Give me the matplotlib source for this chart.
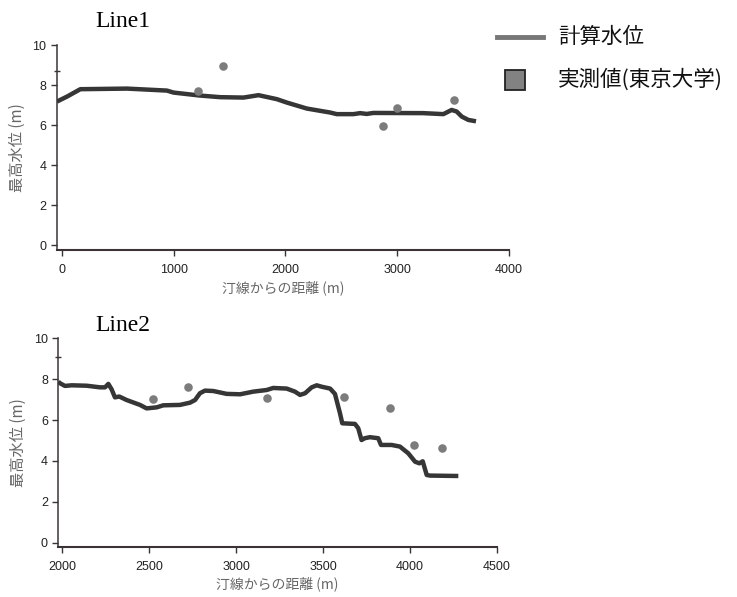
import matplotlib.pyplot as plt
from matplotlib.lines import Line2D
from matplotlib.patches import Rectangle

plt.rcParams['font.family'] = ['Liberation Sans', 'Noto Sans CJK JP']

# Line1 computed water level (distance from shoreline, m / max water level, m)
line1_x = [-45, 45, 164, 581, 939, 999, 1237, 1416, 1624, 1759, 1923, 2012, 2191,
           2400, 2459, 2608, 2668, 2727, 2787, 3234, 3413, 3487, 3532, 3577, 3636, 3705]
line1_y = [7.19, 7.44, 7.81, 7.84, 7.74, 7.64, 7.49, 7.41, 7.39, 7.51, 7.31, 7.14, 6.84,
           6.64, 6.56, 6.56, 6.61, 6.57, 6.62, 6.61, 6.56, 6.77, 6.69, 6.44, 6.27, 6.20]
# Line1 measured (University of Tokyo)
obs1_x = [1213, 1440, 2870, 2996, 3508]
obs1_y = [7.73, 8.98, 5.97, 6.86, 7.27]

# Line2 computed water level
line2_x = [1977, 1987, 2015, 2054, 2140, 2217, 2246, 2265, 2284, 2303, 2328, 2370, 2447,
           2485, 2543, 2581, 2677, 2735, 2764, 2792, 2821, 2869, 2946, 3023, 3099, 3176,
           3214, 3291, 3339, 3368, 3397, 3435, 3464, 3493, 3541, 3569, 3583, 3598, 3611,
           3684, 3703, 3722, 3741, 3770, 3818, 3834, 3895, 3943, 3991, 4030, 4055, 4074,
           4097, 4116, 4279]
line2_y = [7.88, 7.80, 7.67, 7.70, 7.68, 7.60, 7.60, 7.77, 7.50, 7.11, 7.15, 6.98, 6.74,
           6.57, 6.62, 6.72, 6.74, 6.85, 6.98, 7.31, 7.44, 7.42, 7.28, 7.26, 7.39, 7.47,
           7.57, 7.54, 7.39, 7.23, 7.31, 7.60, 7.70, 7.63, 7.54, 7.28, 6.82, 6.33, 5.84,
           5.81, 5.60, 5.02, 5.11, 5.16, 5.11, 4.78, 4.78, 4.70, 4.37, 3.96, 3.88, 3.98,
           3.31, 3.28, 3.26]
obs2_x = [2520, 2721, 3178, 3623, 3886, 4022, 4185]
obs2_y = [7.03, 7.62, 7.08, 7.13, 6.59, 4.76, 4.63]

yticks = [0, 2, 4, 6, 8, 10]
xticks1 = [0, 1000, 2000, 3000, 4000]
xticks2 = [2000, 2500, 3000, 3500, 4000, 4500]

LINE_C = '#363636'
DOT_C = '#7c7c7c'
SPINE_C = '#3c3434'

fig = plt.figure(figsize=(7.37, 5.97), dpi=100)
ax1 = fig.add_axes([0.0773, 0.5812, 0.6133, 0.3426])
ax2 = fig.add_axes([0.0791, 0.0843, 0.5949, 0.3490])


def style_axis(ax, xlim, ylim, xticks, minor_y):
    ax.set_xlim(*xlim)
    ax.set_ylim(*ylim)
    ax.set_xticks(xticks)
    ax.set_yticks(yticks)
    ax.set_yticks([minor_y], minor=True)
    for s in ['top', 'right']:
        ax.spines[s].set_visible(False)
    for s in ['left', 'bottom']:
        ax.spines[s].set_color(SPINE_C)
    ax.spines['left'].set_linewidth(1.1)
    ax.spines['bottom'].set_linewidth(1.5)
    ax.tick_params(axis='both', which='major', labelsize=9, color=SPINE_C,
                   length=4, width=1, direction='out', labelcolor='#222222')
    ax.tick_params(axis='x', which='major', pad=6)
    ax.tick_params(axis='y', which='minor', length=5, width=1, direction='inout',
                   color=SPINE_C)
    ax.set_xlabel('汀線からの距離 (m)', fontsize=10, color='#666666',
                  family=['Noto Sans CJK JP'], labelpad=3)
    ax.set_ylabel('最高水位 (m)', fontsize=11, color='#666666',
                  family=['Noto Sans CJK JP'], labelpad=5)


ax1.plot(line1_x, line1_y, color=LINE_C, lw=3.2, solid_capstyle='butt')
ax1.scatter(obs1_x, obs1_y, s=38, color=DOT_C, zorder=3, linewidths=0)
style_axis(ax1, (-45, 4000), (-0.25, 10), xticks1, 8.7)

ax2.plot(line2_x, line2_y, color=LINE_C, lw=3.2, solid_capstyle='butt')
ax2.scatter(obs2_x, obs2_y, s=38, color=DOT_C, zorder=3, linewidths=0)
style_axis(ax2, (1977, 4500), (-0.2, 10), xticks2, 9.07)

# panel titles
fig.text(95 / 737, 1 - 27 / 597, 'Line1', fontsize=17, family='Liberation Serif',
         ha='left', va='baseline')
fig.text(95 / 737, 1 - 331 / 597, 'Line2', fontsize=17, family='Liberation Serif',
         ha='left', va='baseline')

# legend drawn in figure coordinates
fig.add_artist(Line2D([497 / 737, 543 / 737], [1 - 37 / 597, 1 - 37 / 597],
                      transform=fig.transFigure, color='#777777', lw=3.5))
fig.add_artist(Rectangle((505 / 737, 1 - 90 / 597), 20 / 737, 20 / 597,
                         transform=fig.transFigure, facecolor='#828282',
                         edgecolor='#222222', lw=1.3))
fig.text(558 / 737, 1 - 37 / 597, '計算水位', fontsize=15.5,
         family=['Noto Sans CJK JP'], va='center', ha='left', color='#111111')
fig.text(558 / 737, 1 - 80 / 597, '実測値(東京大学)', fontsize=15.5,
         family=['Noto Sans CJK JP'], va='center', ha='left', color='#111111')

fig.savefig('out.png', dpi=100)
